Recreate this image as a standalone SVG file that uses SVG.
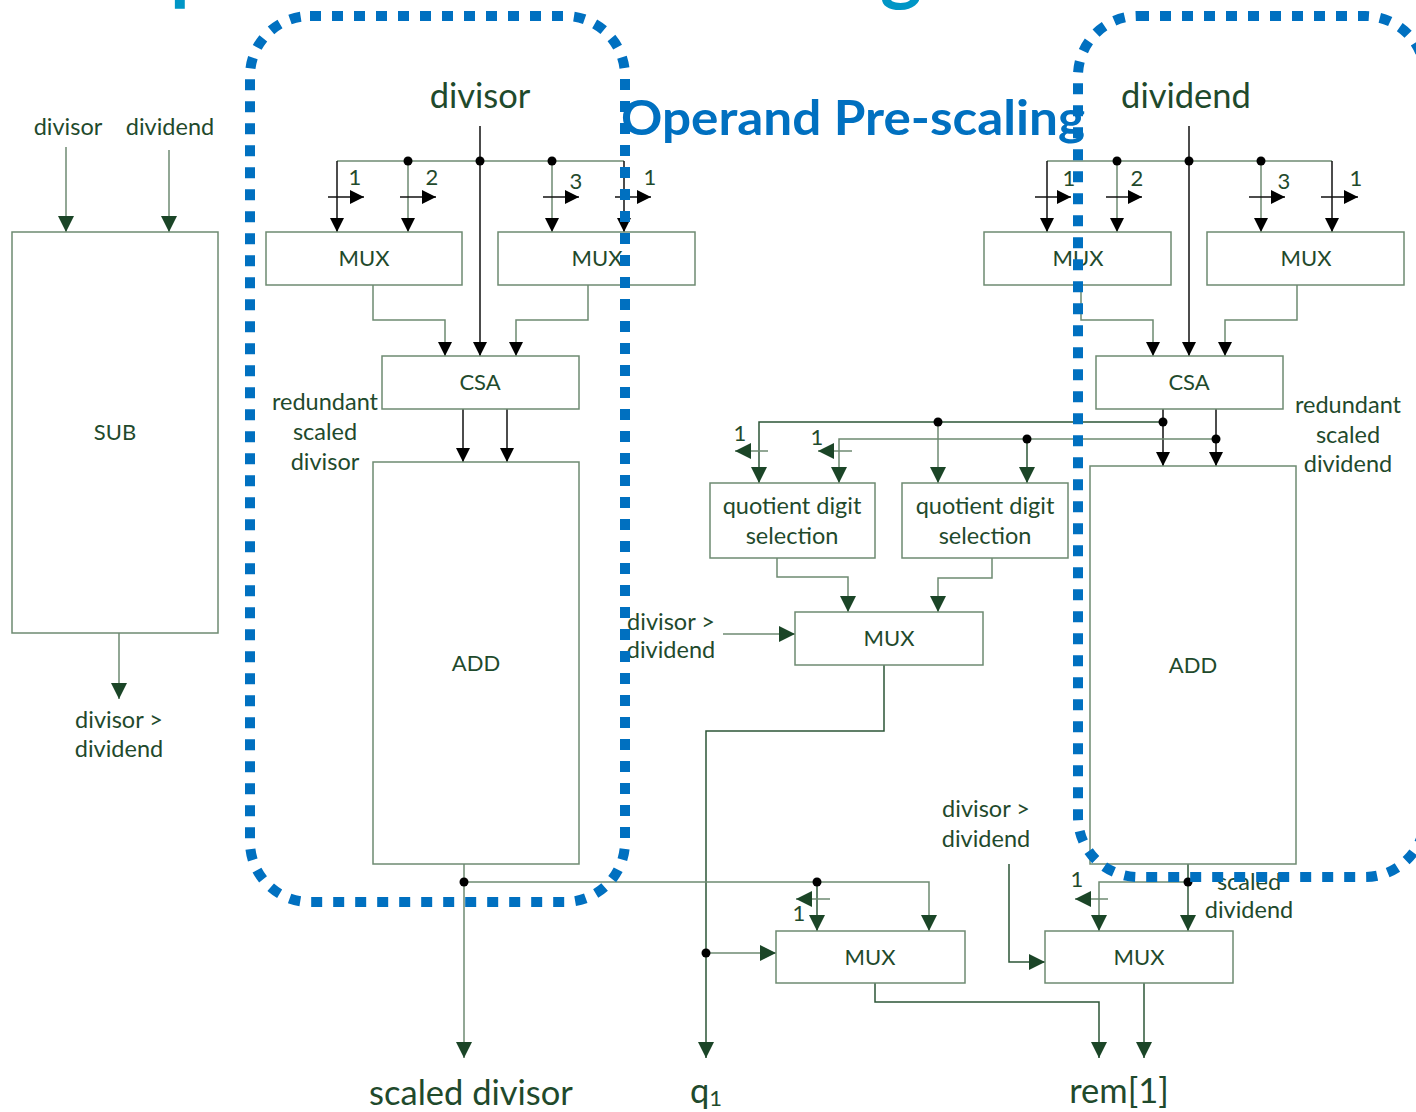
<svg xmlns="http://www.w3.org/2000/svg" width="1416" height="1112" viewBox="0 0 1416 1112">
  <defs>
    <style>
      .box { fill: #ffffff; stroke: #6e8a72; stroke-width: 1.5; }
      .t { font-family: Lato, "Open Sans", sans-serif; fill: #1f4a2c; text-anchor: middle; }
      .s { font-size: 22px; }
      .l { font-size: 23.5px; }
      .b { font-size: 34.5px; }
      .n { font-size: 22px; }
      .w { fill: none; stroke: #6e8a72; stroke-width: 1.5; }
      .d { fill: none; stroke: #2c5637; stroke-width: 1.5; }
      .k { fill: none; stroke: #111111; stroke-width: 1.5; }
      .ag { marker-end: url(#ag); }
      .ak { marker-end: url(#ak); }
      .dot { fill: #000000; }
      .region { fill: none; stroke: #0070c0; stroke-width: 10; stroke-dasharray: 11 11; }
    </style>
    <marker id="ag" viewBox="0 0 16 16" refX="16" refY="8" markerWidth="16" markerHeight="16" orient="auto" markerUnits="userSpaceOnUse">
      <path d="M0,0 L16,8 L0,16 Z" fill="#1b4527"/>
    </marker>
    <marker id="ak" viewBox="0 0 14 14" refX="14" refY="7" markerWidth="14" markerHeight="14" orient="auto" markerUnits="userSpaceOnUse">
      <path d="M0,0 L14,7 L0,14 Z" fill="#000000"/>
    </marker>
  </defs>

  <rect width="1416" height="1112" fill="#ffffff"/>

  <!-- slide title descenders cut by the top edge -->
  <text x="170" y="-5" font-family="Lato, sans-serif" font-weight="bold" font-size="80" fill="#0096c6">p</text>
  <text x="880" y="-5" font-family="Lato, sans-serif" font-weight="bold" font-size="80" fill="#0096c6">g</text>

  <!-- connectors -->
  <g id="connectors">
    <!-- SUB -->
    <path class="w ag" d="M66,147 V232"/>
    <path class="w ag" d="M169,150 V232"/>
    <path class="w ag" d="M119,633 V699"/>

    <!-- divisor pre-scaling -->
    <path class="w" d="M337,161 H624"/>
    <path class="k ak" d="M480,126 V356"/>
    <path class="k ak" d="M337,161 V232"/>
    <path class="w ak" d="M408,161 V232"/>
    <path class="w ak" d="M552,161 V232"/>
    <path class="k ak" d="M624,161 V232"/>
    <path class="k ak" d="M328,197 H364"/>
    <path class="k ak" d="M400,197 H436"/>
    <path class="k ak" d="M543,197 H579"/>
    <path class="k ak" d="M615,197 H651"/>
    <path class="w ak" d="M373,285 V320 H445 V356"/>
    <path class="w ak" d="M588,285 V320 H516 V356"/>
    <path class="k ak" d="M463,409 V462"/>
    <path class="k ak" d="M507,409 V462"/>

    <!-- dividend pre-scaling -->
    <path class="w" d="M1047,161 H1332"/>
    <path class="k ak" d="M1189,126 V356"/>
    <path class="k ak" d="M1047,161 V232"/>
    <path class="w ak" d="M1117,161 V232"/>
    <path class="w ak" d="M1261,161 V232"/>
    <path class="k ak" d="M1332,161 V232"/>
    <path class="k ak" d="M1035,197 H1071"/>
    <path class="k ak" d="M1106,197 H1142"/>
    <path class="k ak" d="M1249,197 H1285"/>
    <path class="k ak" d="M1321,197 H1358"/>
    <path class="w ak" d="M1081,285 V320 H1153 V356"/>
    <path class="w ak" d="M1297,285 V320 H1225 V356"/>
    <path class="k ak" d="M1163,409 V466"/>
    <path class="k ak" d="M1216,409 V466"/>

    <!-- quotient digit selection -->
    <path class="d ag" d="M1163,422 H759 V483"/>
    <path class="w ag" d="M938,422 V483"/>
    <path class="w ag" d="M1216,439 H839 V483"/>
    <path class="d ag" d="M1027,439 V483"/>
    <path class="w ag" d="M768,451 H735"/>
    <path class="w ag" d="M852,451 H818"/>
    <path class="w ag" d="M777,558 V577 H848 V612"/>
    <path class="w ag" d="M992,558 V578 H938 V612"/>
    <path class="w ag" d="M723,634 H795"/>
    <path class="d ag" d="M884,665 V731 H706 V1058"/>
    <path class="w ag" d="M706,953 H776"/>

    <!-- remainder correction -->
    <path class="w ag" d="M464,864 V1058"/>
    <path class="w ag" d="M464,882 H929 V931"/>
    <path class="d ag" d="M817,882 V931"/>
    <path class="w ag" d="M830,899 H796"/>
    <path class="d ag" d="M875,983 V1002 H1099 V1058"/>
    <path class="d ag" d="M1144,983 V1058"/>
    <path class="d ag" d="M1009,864 V962 H1045"/>
    <path class="d ag" d="M1188,864 V931"/>
    <path class="w ag" d="M1188,882 H1099 V931"/>
    <path class="w ag" d="M1108,899 H1075"/>

    <!-- junctions -->
    <circle class="dot" cx="408" cy="161" r="4.5"/>
    <circle class="dot" cx="480" cy="161" r="4.5"/>
    <circle class="dot" cx="552" cy="161" r="4.5"/>
    <circle class="dot" cx="1117" cy="161" r="4.5"/>
    <circle class="dot" cx="1189" cy="161" r="4.5"/>
    <circle class="dot" cx="1261" cy="161" r="4.5"/>
    <circle class="dot" cx="1163" cy="422" r="4.5"/>
    <circle class="dot" cx="1216" cy="439" r="4.5"/>
    <circle class="dot" cx="938" cy="422" r="4.5"/>
    <circle class="dot" cx="1027" cy="439" r="4.5"/>
    <circle class="dot" cx="706" cy="953" r="4.5"/>
    <circle class="dot" cx="464" cy="882" r="4.5"/>
    <circle class="dot" cx="817" cy="882" r="4.5"/>
    <circle class="dot" cx="1188" cy="882" r="4.5"/>
  </g>

  <!-- blocks -->
  <g id="sub">
    <rect class="box" x="12" y="232" width="206" height="401"/>
    <text class="t s" x="115" y="440">SUB</text>
  </g>
  <g id="mux-divisor-a">
    <rect class="box" x="266" y="232" width="196" height="53"/>
    <text class="t s" x="364" y="266">MUX</text>
  </g>
  <g id="mux-divisor-b">
    <rect class="box" x="498" y="232" width="197" height="53"/>
    <text class="t s" x="597" y="266">MUX</text>
  </g>
  <g id="csa-divisor">
    <rect class="box" x="382" y="356" width="197" height="53"/>
    <text class="t s" x="480" y="390">CSA</text>
  </g>
  <g id="add-divisor">
    <rect class="box" x="373" y="462" width="206" height="402"/>
    <text class="t s" x="476" y="671">ADD</text>
  </g>
  <g id="mux-dividend-a">
    <rect class="box" x="984" y="232" width="187" height="53"/>
    <text class="t s" x="1078" y="266">MUX</text>
  </g>
  <g id="mux-dividend-b">
    <rect class="box" x="1207" y="232" width="197" height="53"/>
    <text class="t s" x="1306" y="266">MUX</text>
  </g>
  <g id="csa-dividend">
    <rect class="box" x="1096" y="356" width="187" height="53"/>
    <text class="t s" x="1189" y="390">CSA</text>
  </g>
  <g id="add-dividend">
    <rect class="box" x="1090" y="466" width="206" height="398"/>
    <text class="t s" x="1193" y="673">ADD</text>
  </g>
  <g id="qds-1">
    <rect class="box" x="710" y="483" width="165" height="75"/>
    <text class="t l" x="792" y="514">quotient digit</text>
    <text class="t l" x="792" y="544">selection</text>
  </g>
  <g id="qds-2">
    <rect class="box" x="902" y="483" width="166" height="75"/>
    <text class="t l" x="985" y="514">quotient digit</text>
    <text class="t l" x="985" y="544">selection</text>
  </g>
  <g id="mux-q">
    <rect class="box" x="795" y="612" width="188" height="53"/>
    <text class="t s" x="889" y="646">MUX</text>
  </g>
  <g id="mux-rem-a">
    <rect class="box" x="776" y="931" width="189" height="52"/>
    <text class="t s" x="870" y="965">MUX</text>
  </g>
  <g id="mux-rem-b">
    <rect class="box" x="1045" y="931" width="188" height="52"/>
    <text class="t s" x="1139" y="965">MUX</text>
  </g>

  <!-- signal labels -->
  <g id="labels">
    <text class="t l" x="68" y="135">divisor</text>
    <text class="t l" x="170" y="135">dividend</text>
    <text class="t l" x="119" y="728">divisor &gt;</text>
    <text class="t l" x="119" y="757">dividend</text>
    <text class="t b" x="480" y="108">divisor</text>
    <text class="t b" x="1186" y="108">dividend</text>
    <text class="t l" x="325" y="410">redundant</text>
    <text class="t l" x="325" y="440">scaled</text>
    <text class="t l" x="325" y="470">divisor</text>
    <text class="t l" x="1348" y="413">redundant</text>
    <text class="t l" x="1348" y="443">scaled</text>
    <text class="t l" x="1348" y="472">dividend</text>
    <text class="t l" x="671" y="630">divisor &gt;</text>
    <text class="t l" x="671" y="658">dividend</text>
    <text class="t l" x="986" y="817">divisor &gt;</text>
    <text class="t l" x="986" y="847">dividend</text>
    <text class="t l" x="1249" y="890">scaled</text>
    <text class="t l" x="1249" y="918">dividend</text>
    <text class="t b" x="471" y="1105">scaled divisor</text>
    <text class="t b" x="706" y="1103">q<tspan font-size="22" dy="3">1</tspan></text>
    <text class="t b" x="1119" y="1103">rem[1]</text>
    <!-- shift amounts -->
    <text class="t n" x="355" y="185">1</text>
    <text class="t n" x="432" y="185">2</text>
    <text class="t n" x="576" y="189">3</text>
    <text class="t n" x="650" y="185">1</text>
    <text class="t n" x="1069" y="186">1</text>
    <text class="t n" x="1137" y="186">2</text>
    <text class="t n" x="1284" y="189">3</text>
    <text class="t n" x="1356" y="186">1</text>
    <text class="t n" x="740" y="441">1</text>
    <text class="t n" x="817" y="445">1</text>
    <text class="t n" x="799" y="921">1</text>
    <text class="t n" x="1077" y="887">1</text>
  </g>

  <!-- pre-scaling regions -->
  <g id="regions">
    <rect class="region" x="250" y="16" width="375" height="886" rx="60" ry="60"/>
    <rect class="region" x="1078" y="16" width="347" height="861" rx="60" ry="60"/>
    <text x="621" y="135" font-family="Lato, sans-serif" font-weight="bold" font-size="48" fill="#0070c0" textLength="464" lengthAdjust="spacingAndGlyphs">Operand Pre-scaling</text>
  </g>
</svg>
